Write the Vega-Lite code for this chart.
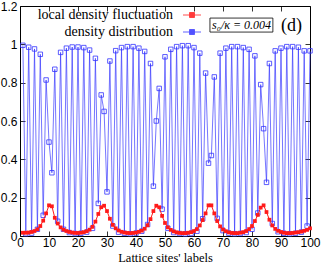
{
  "$schema": "https://vega.github.io/schema/vega-lite/v6.json",
  "autosize": {"type": "none"},
  "padding": {"left": 20, "top": 6, "right": 12, "bottom": 28},
  "width": 290,
  "height": 230,
  "data": {"values": [
    {"site": 1, "density": 0.995, "fluctuation": 0.017},
    {"site": 2, "density": 0.012, "fluctuation": 0.017},
    {"site": 3, "density": 0.985, "fluctuation": 0.018},
    {"site": 4, "density": 0.015, "fluctuation": 0.021},
    {"site": 5, "density": 0.976, "fluctuation": 0.026},
    {"site": 6, "density": 0.035, "fluctuation": 0.035},
    {"site": 7, "density": 0.948, "fluctuation": 0.052},
    {"site": 8, "density": 0.108, "fluctuation": 0.08},
    {"site": 9, "density": 0.814, "fluctuation": 0.118},
    {"site": 10, "density": 0.49, "fluctuation": 0.16},
    {"site": 11, "density": 0.33, "fluctuation": 0.155},
    {"site": 12, "density": 0.87, "fluctuation": 0.095},
    {"site": 13, "density": 0.077, "fluctuation": 0.065},
    {"site": 14, "density": 0.958, "fluctuation": 0.045},
    {"site": 15, "density": 0.035, "fluctuation": 0.033},
    {"site": 16, "density": 0.98, "fluctuation": 0.026},
    {"site": 17, "density": 0.018, "fluctuation": 0.021},
    {"site": 18, "density": 0.986, "fluctuation": 0.018},
    {"site": 19, "density": 0.013, "fluctuation": 0.016},
    {"site": 20, "density": 0.986, "fluctuation": 0.016},
    {"site": 21, "density": 0.014, "fluctuation": 0.017},
    {"site": 22, "density": 0.983, "fluctuation": 0.02},
    {"site": 23, "density": 0.02, "fluctuation": 0.025},
    {"site": 24, "density": 0.97, "fluctuation": 0.033},
    {"site": 25, "density": 0.04, "fluctuation": 0.048},
    {"site": 26, "density": 0.927, "fluctuation": 0.075},
    {"site": 27, "density": 0.17, "fluctuation": 0.115},
    {"site": 28, "density": 0.736, "fluctuation": 0.15},
    {"site": 29, "density": 0.65, "fluctuation": 0.158},
    {"site": 30, "density": 0.23, "fluctuation": 0.13},
    {"site": 31, "density": 0.913, "fluctuation": 0.09},
    {"site": 32, "density": 0.052, "fluctuation": 0.058},
    {"site": 33, "density": 0.967, "fluctuation": 0.04},
    {"site": 34, "density": 0.02, "fluctuation": 0.029},
    {"site": 35, "density": 0.983, "fluctuation": 0.022},
    {"site": 36, "density": 0.014, "fluctuation": 0.018},
    {"site": 37, "density": 0.988, "fluctuation": 0.016},
    {"site": 38, "density": 0.012, "fluctuation": 0.015},
    {"site": 39, "density": 0.988, "fluctuation": 0.016},
    {"site": 40, "density": 0.015, "fluctuation": 0.018},
    {"site": 41, "density": 0.98, "fluctuation": 0.022},
    {"site": 42, "density": 0.025, "fluctuation": 0.028},
    {"site": 43, "density": 0.963, "fluctuation": 0.038},
    {"site": 44, "density": 0.06, "fluctuation": 0.056},
    {"site": 45, "density": 0.9, "fluctuation": 0.088},
    {"site": 46, "density": 0.26, "fluctuation": 0.13},
    {"site": 47, "density": 0.6, "fluctuation": 0.158},
    {"site": 48, "density": 0.77, "fluctuation": 0.15},
    {"site": 49, "density": 0.14, "fluctuation": 0.105},
    {"site": 50, "density": 0.935, "fluctuation": 0.068},
    {"site": 51, "density": 0.04, "fluctuation": 0.045},
    {"site": 52, "density": 0.974, "fluctuation": 0.032},
    {"site": 53, "density": 0.018, "fluctuation": 0.024},
    {"site": 54, "density": 0.988, "fluctuation": 0.019},
    {"site": 55, "density": 0.013, "fluctuation": 0.016},
    {"site": 56, "density": 0.993, "fluctuation": 0.015},
    {"site": 57, "density": 0.011, "fluctuation": 0.015},
    {"site": 58, "density": 0.993, "fluctuation": 0.017},
    {"site": 59, "density": 0.013, "fluctuation": 0.02},
    {"site": 60, "density": 0.983, "fluctuation": 0.026},
    {"site": 61, "density": 0.025, "fluctuation": 0.036},
    {"site": 62, "density": 0.954, "fluctuation": 0.055},
    {"site": 63, "density": 0.09, "fluctuation": 0.083},
    {"site": 64, "density": 0.85, "fluctuation": 0.118},
    {"site": 65, "density": 0.38, "fluctuation": 0.16},
    {"site": 66, "density": 0.42, "fluctuation": 0.16},
    {"site": 67, "density": 0.83, "fluctuation": 0.118},
    {"site": 68, "density": 0.092, "fluctuation": 0.078},
    {"site": 69, "density": 0.954, "fluctuation": 0.05},
    {"site": 70, "density": 0.028, "fluctuation": 0.034},
    {"site": 71, "density": 0.98, "fluctuation": 0.025},
    {"site": 72, "density": 0.015, "fluctuation": 0.019},
    {"site": 73, "density": 0.988, "fluctuation": 0.016},
    {"site": 74, "density": 0.012, "fluctuation": 0.015},
    {"site": 75, "density": 0.988, "fluctuation": 0.015},
    {"site": 76, "density": 0.013, "fluctuation": 0.017},
    {"site": 77, "density": 0.983, "fluctuation": 0.02},
    {"site": 78, "density": 0.018, "fluctuation": 0.026},
    {"site": 79, "density": 0.974, "fluctuation": 0.036},
    {"site": 80, "density": 0.035, "fluctuation": 0.052},
    {"site": 81, "density": 0.94, "fluctuation": 0.078},
    {"site": 82, "density": 0.12, "fluctuation": 0.11},
    {"site": 83, "density": 0.79, "fluctuation": 0.148},
    {"site": 84, "density": 0.56, "fluctuation": 0.16},
    {"site": 85, "density": 0.28, "fluctuation": 0.125},
    {"site": 86, "density": 0.9, "fluctuation": 0.085},
    {"site": 87, "density": 0.065, "fluctuation": 0.055},
    {"site": 88, "density": 0.966, "fluctuation": 0.037},
    {"site": 89, "density": 0.022, "fluctuation": 0.027},
    {"site": 90, "density": 0.98, "fluctuation": 0.021},
    {"site": 91, "density": 0.014, "fluctuation": 0.017},
    {"site": 92, "density": 0.988, "fluctuation": 0.015},
    {"site": 93, "density": 0.012, "fluctuation": 0.015},
    {"site": 94, "density": 0.988, "fluctuation": 0.016},
    {"site": 95, "density": 0.014, "fluctuation": 0.018},
    {"site": 96, "density": 0.985, "fluctuation": 0.02},
    {"site": 97, "density": 0.02, "fluctuation": 0.023},
    {"site": 98, "density": 0.966, "fluctuation": 0.027},
    {"site": 99, "density": 0.052, "fluctuation": 0.032},
    {"site": 100, "density": 0.966, "fluctuation": 0.04}
  ]},
  "resolve": {"scale": {"x": "independent", "y": "independent"}},
  "layer": [
    {
      "encoding": {
        "x": {"field": "site", "type": "quantitative", "scale": {"domain": [0, 100], "nice": false},
              "axis": {"orient": "bottom", "values": [0,10,20,30,40,50,60,70,80,90,100], "title": "Lattice sites' labels", "labelPadding": 6, "titleBaseline": "alphabetic", "titleY": 25}},
        "y": {"type": "quantitative", "scale": {"domain": [0, 1.2], "nice": false},
              "axis": {"orient": "left", "values": [0,0.2,0.4,0.6,0.8,1,1.2], "format": "~g", "title": null, "labelPadding": 8}}
      },
      "layer": [
        {
          "mark": {"type": "line", "strokeWidth": 0.8, "opacity": 0.85},
          "encoding": {
            "y": {"field": "density", "type": "quantitative"},
            "color": {"datum": "density distribution", "type": "nominal",
              "scale": {"domain": ["local density fluctuation", "density distribution"], "range": ["#ff1a1a", "#3434ff"]},
              "legend": {"title": null, "orient": "none", "legendX": 165, "legendY": 2, "padding": 0,
                "labelAlign": "right", "labelOffset": -26,
                "symbolType": "M-1.8,0L1.8,0M-0.5,-0.5L0.5,-0.5L0.5,0.5L-0.5,0.5Z",
                "symbolSize": 100, "symbolStrokeWidth": 0.9, "rowPadding": 3,
                "labelFont": "Liberation Serif", "labelFontSize": 14, "labelColor": "black", "labelLimit": 300,
                "encode": {"symbols": {
                  "fill": {"condition": {"test": "datum.value === 'density distribution'", "value": "#ffffff"}, "value": "#ff1a1a"},
                  "fillOpacity": {"value": 1},
                  "opacity": {"value": 1}
                }}}
            }
          }
        },
        {
          "mark": {"type": "point", "shape": "square", "filled": false, "size": 20, "strokeWidth": 0.8, "opacity": 1},
          "encoding": {
            "y": {"field": "density", "type": "quantitative"},
            "color": {"datum": "density distribution", "type": "nominal"}
          }
        },
        {
          "mark": {"type": "line", "strokeWidth": 1},
          "encoding": {
            "y": {"field": "fluctuation", "type": "quantitative"},
            "color": {"datum": "local density fluctuation", "type": "nominal"}
          }
        },
        {
          "mark": {"type": "point", "shape": "square", "filled": true, "size": 14, "opacity": 1},
          "encoding": {
            "y": {"field": "fluctuation", "type": "quantitative"},
            "color": {"datum": "local density fluctuation", "type": "nominal"}
          }
        }
      ]
    },
    {
      "mark": {"type": "point", "opacity": 0},
      "encoding": {
        "x": {"field": "site", "type": "quantitative", "scale": {"domain": [0, 100], "nice": false},
              "axis": {"orient": "top", "values": [0,10,20,30,40,50,60,70,80,90,100], "labels": false, "title": null}},
        "y": {"field": "fluctuation", "type": "quantitative", "scale": {"domain": [0, 1.2], "nice": false},
              "axis": {"orient": "right", "values": [0,0.2,0.4,0.6,0.8,1,1.2], "labels": false, "title": null}}
      }
    },
    {
      "data": {"values": [{"label": "s₀/κ = 0.004"}]},
      "mark": {"type": "rect", "fill": "white", "stroke": "black", "strokeWidth": 0.8},
      "encoding": {
        "x": {"datum": 65.5, "type": "quantitative", "scale": {"domain": [0, 100], "nice": false}, "axis": null},
        "x2": {"datum": 87.2},
        "y": {"datum": 1.137, "type": "quantitative", "scale": {"domain": [0, 1.2], "nice": false}, "axis": null},
        "y2": {"datum": 1.064}
      }
    },
    {
      "data": {"values": [{"label": "s₀/κ = 0.004"}]},
      "mark": {"type": "text", "font": "Liberation Serif", "fontStyle": "italic", "fontSize": 12, "align": "center", "baseline": "middle", "color": "black"},
      "encoding": {
        "x": {"datum": 76.4, "type": "quantitative", "scale": {"domain": [0, 100], "nice": false}, "axis": null},
        "y": {"datum": 1.1, "type": "quantitative", "scale": {"domain": [0, 1.2], "nice": false}, "axis": null},
        "text": {"field": "label"}
      }
    },
    {
      "data": {"values": [{"label": "(d)"}]},
      "mark": {"type": "text", "font": "Liberation Serif", "fontSize": 18, "align": "center", "baseline": "middle", "color": "black"},
      "encoding": {
        "x": {"datum": 93.6, "type": "quantitative", "scale": {"domain": [0, 100], "nice": false}, "axis": null},
        "y": {"datum": 1.095, "type": "quantitative", "scale": {"domain": [0, 1.2], "nice": false}, "axis": null},
        "text": {"field": "label"}
      }
    }
  ],
  "config": {
    "view": {"stroke": "black", "strokeWidth": 1},
    "axis": {"grid": false, "domain": false, "tickColor": "black", "tickSize": -5, "tickWidth": 0.8,
      "labelFont": "Liberation Sans", "labelFontSize": 12, "labelColor": "black", "labelFlush": false, "labelOverlap": false,
      "titleFont": "Liberation Serif", "titleFontSize": 12.5, "titleFontWeight": "normal", "titleColor": "black"}
  }
}
